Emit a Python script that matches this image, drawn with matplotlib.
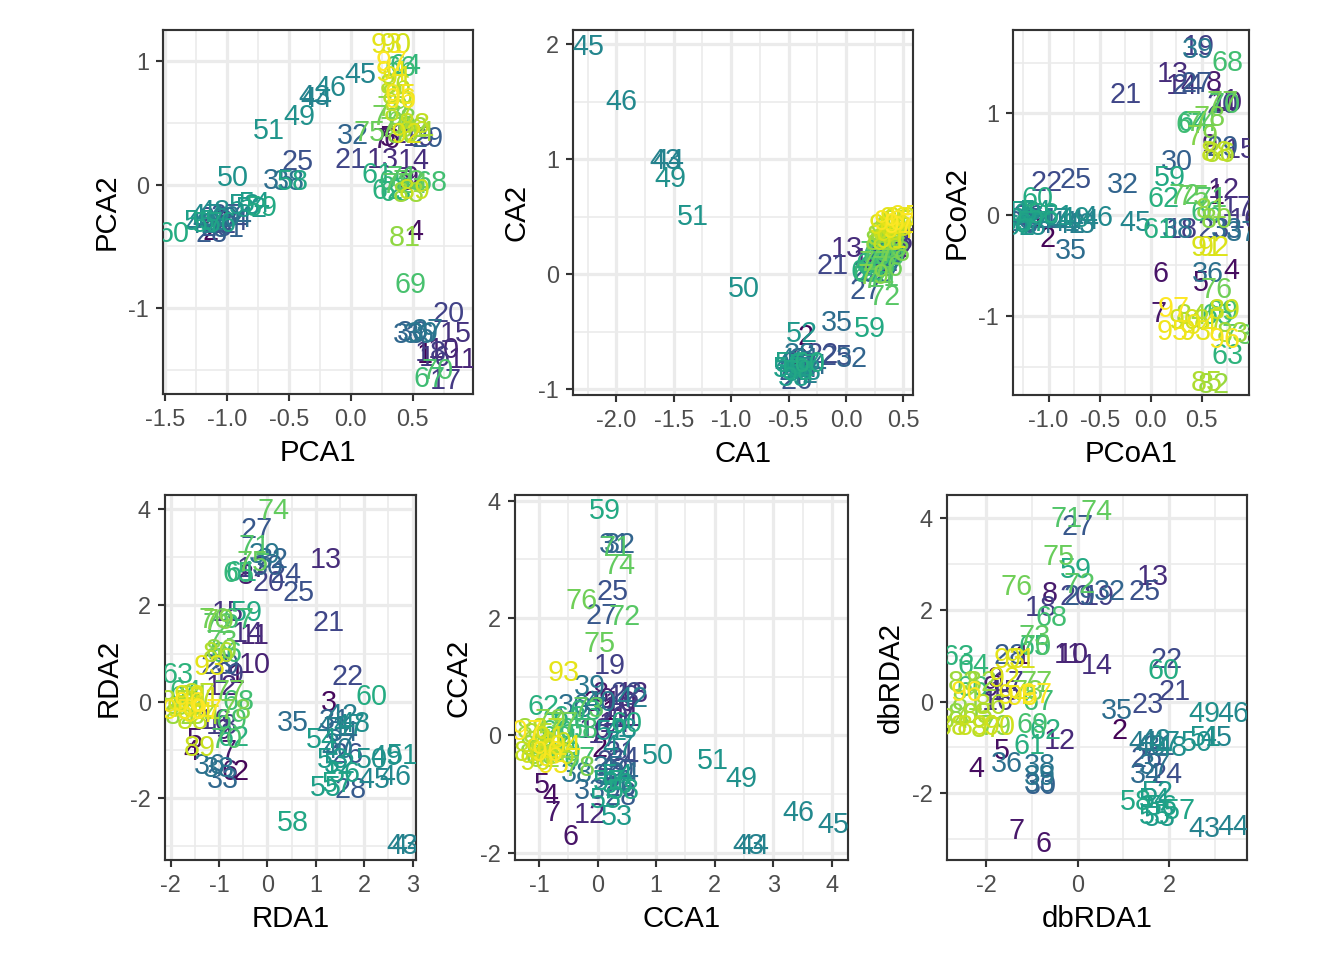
import matplotlib
matplotlib.use('Agg')
import matplotlib.pyplot as plt
from matplotlib.ticker import MultipleLocator, FormatStrFormatter

plt.rcParams['font.family'] = ['Liberation Sans', 'DejaVu Sans']
plt.rcParams['axes.unicode_minus'] = False

# sample ids 1..97, coloured by id (viridis)
labels = list(range(1, 98))

# %% PCA scores
pca_x = [0.60, -1.13, -1.05, 0.52, 0.30, 0.33, 0.24, 0.45, 0.48, 0.75,
         0.90, 0.45, 0.26, 0.51, 0.85, 0.68, 0.77, 0.65, 0.55, 0.79,
         0.00, -1.05, -1.10, -0.95, -0.43, -1.08, -1.00, -1.12, 0.62, 0.50,
         -0.98, 0.02, 0.47, -0.92, -0.58, 0.55, 0.62, -0.50, 0.58, -1.02,
         -1.15, -1.20, -0.29, -0.28, 0.08, -0.16, -1.17, -1.10, -0.41, -0.95,
         -0.66, -0.80, -0.85, -0.77, -1.22, -1.05, -1.15, -0.47, -0.72, -1.43,
         0.22, 0.30, 0.36, 0.44, 0.35, 0.40, 0.64, 0.65, 0.48, 0.70,
         0.42, 0.38, 0.47, 0.50, 0.15, 0.30, 0.36, 0.40, 0.34, 0.42,
         0.44, 0.50, 0.47, 0.55, 0.38, 0.36, 0.40, 0.52, 0.52, 0.36,
         0.38, 0.45, 0.29, 0.33, 0.40, 0.40, 0.33]
pca_y = [-1.38, -0.38, -0.30, -0.38, 0.38, 0.36, 0.36, 0.02, 0.05, -1.34,
         -1.42, 0.40, 0.20, 0.19, -1.21, -1.40, -1.59, -1.36, 0.38, -1.05,
         0.20, -0.33, -0.28, -0.30, 0.18, -0.35, -0.25, -0.40, 0.37, -1.20,
         -0.36, 0.39, -1.22, -0.28, 0.03, -1.22, -1.18, 0.02, -1.21, -0.27,
         -0.30, -0.33, 0.71, 0.69, 0.887, 0.78, -0.25, -0.22, 0.55, 0.055,
         0.43, -0.20, -0.17, -0.16, -0.30, -0.32, -0.32, 0.02, -0.19, -0.40,
         0.08, -0.05, -0.07, 0.96, 0.02, 0.94, -1.57, 0.015, -0.81, -1.51,
         0.05, 0.00, 0.02, 0.00, 0.42, 0.55, 0.45, 0.52, 0.62, 0.40,
         -0.43, 0.45, -0.08, 0.42, 0.72, 0.80, 0.58, 0.48, -0.05, 1.13,
         0.86, 0.40, 1.13, 0.90, 0.72, 0.68, 0.98]

# %% CA scores
ca_x = [0.25, -0.35, -0.40, 0.22, 0.30, 0.28, 0.25, 0.35, 0.38, 0.40,
        0.42, 0.32, 0.01, 0.20, 0.45, 0.43, 0.46, 0.36, 0.30, 0.40,
        -0.12, -0.20, -0.42, -0.38, -0.08, -0.43, 0.17, -0.45, 0.20, 0.35,
        -0.35, 0.05, 0.30, -0.30, -0.08, 0.28, 0.38, -0.40, 0.33, -0.48,
        -0.45, -0.38, -1.57, -1.55, -2.24, -1.96, -0.42, -0.35, -1.53, -0.89,
        -1.33, -0.38, -0.45, -0.40, -0.50, -0.48, -0.36, -0.42, 0.21, -0.32,
        0.18, 0.22, 0.25, 0.28, 0.20, 0.30, 0.35, 0.32, 0.38, 0.26,
        0.33, 0.34, 0.30, 0.28, 0.40, 0.36, 0.25, 0.42, 0.24, 0.38,
        0.30, 0.35, 0.40, 0.32, 0.45, 0.38, 0.42, 0.36, 0.44, 0.48,
        0.40, 0.34, 0.43, 0.46, 0.52, 0.38, 0.47]
ca_y = [0.10, -0.55, -0.75, 0.05, 0.15, 0.08, 0.12, 0.20, 0.25, 0.18,
        0.22, 0.10, 0.22, 0.12, 0.28, 0.25, 0.30, 0.15, 0.20, 0.30,
        0.07, -0.70, -0.78, -0.82, -0.72, -0.93, -0.145, -0.85, 0.02, 0.12,
        -0.75, -0.74, 0.05, -0.80, -0.42, 0.00, 0.20, -0.70, 0.08, -0.80,
        -0.75, -0.88, 0.985, 0.985, 1.97, 1.50, -0.82, -0.85, 0.83, -0.13,
        0.50, -0.52, -0.90, -0.86, -0.82, -0.78, -0.80, -0.85, -0.48, -0.78,
        0.02, 0.08, 0.05, 0.15, 0.00, 0.20, 0.10, 0.25, 0.15, 0.18,
        -0.03, -0.20, 0.12, -0.05, 0.22, 0.05, 0.10, 0.18, -0.02, 0.30,
        0.28, 0.35, 0.40, 0.32, 0.45, 0.38, 0.35, 0.28, 0.40, 0.48,
        0.30, 0.42, 0.48, 0.38, 0.50, 0.45, 0.43]

# %% PCoA scores
pcoa_x = [0.65, -1.01, -1.15, 0.79, 0.49, 0.10, 0.08, 0.62, 0.58, 0.74,
          0.72, 0.72, 0.22, 0.30, 0.88, 0.92, 0.85, 0.30, 0.47, 0.70,
          -0.25, -1.02, 0.62, 0.36, -0.74, -1.20, 0.45, -1.25, 0.70, 0.26,
          -1.05, -0.27, 0.75, -1.10, -0.78, 0.56, 0.89, 0.27, 0.46, -1.30,
          -0.85, -0.80, -0.70, -0.66, -0.15, -0.52, -0.95, -1.18, -0.75, -1.22,
          -0.90, -1.28, -1.32, -1.12, -1.25, -1.32, -1.15, -1.05, 0.19, -1.11,
          0.08, 0.13, 0.75, 0.42, 0.65, 0.55, 0.40, 0.75, 0.70, 0.72,
          0.60, 0.33, 0.85, 0.50, 0.42, 0.64, 0.70, 0.58, 0.51, 0.65,
          0.60, 0.62, 0.80, 0.40, 0.55, 0.68, 0.58, 0.65, 0.72, 0.33,
          0.55, 0.62, 0.44, 0.50, 0.21, 0.72, 0.22]
pcoa_y = [0.18, -0.245, -0.05, -0.555, -0.67, -0.59, -0.98, 1.30, 0.68, 1.10,
          1.12, 0.245, 1.39, 1.27, 0.64, -0.05, 0.07, -0.15, 1.65, 1.08,
          1.18, 0.31, -0.15, 1.27, 0.34, -0.02, 1.29, -0.08, 0.66, 0.52,
          -0.05, 0.29, -0.15, -0.10, -0.36, -0.59, -0.18, -0.15, 1.62, -0.05,
          -0.08, -0.10, -0.10, -0.06, -0.08, -0.03, -0.05, -0.12, -0.04, 0.02,
          -0.02, -0.12, 0.00, 0.03, 0.02, -0.10, -0.08, 0.00, 0.36, 0.15,
          -0.15, 0.15, -1.40, 0.90, -1.00, 0.02, 0.88, 1.50, -0.96, 1.08,
          0.15, 0.18, -1.20, 0.90, 0.17, -0.74, 1.10, 0.95, 0.77, -0.05,
          0.05, -1.68, -1.18, -1.00, -1.66, 0.60, -1.05, 0.61, -0.95, -1.05,
          -0.33, -0.33, -1.16, -1.10, -1.16, -1.24, -0.93]

# %% RDA scores
rda_x = [-0.64, -0.55, 1.26, -1.57, -1.50, -0.78, -0.80, -0.45, -0.90, -0.26,
         -0.26, -0.95, 1.20, -0.40, -0.82, -1.10, -0.30, -0.95, -0.80, 0.02,
         1.26, 1.65, -1.05, 0.37, 0.64, 1.65, -0.22, 1.71, -0.90, 0.00,
         1.40, 0.12, -0.92, 1.55, 0.53, -1.19, 1.50, -1.00, -0.05, 1.45,
         1.35, 1.55, 2.79, 2.90, 2.20, 2.65, 1.70, 1.80, 2.45, 2.15,
         2.79, 1.50, 1.35, 1.13, 1.20, 1.60, 1.45, 0.53, -0.43, 2.16,
         -0.53, -0.71, -1.85, -1.70, -0.60, -0.84, -0.60, -0.60, -0.75, -0.85,
         -0.26, -1.00, -0.95, 0.12, -0.30, -1.10, -0.78, -0.65, -1.02, -0.95,
         -1.50, -1.80, -1.65, -1.30, -1.90, -1.00, -1.40, -1.55, -1.40, -1.75,
         -1.30, -1.60, -1.19, -1.45, -1.85, -1.60, -1.25]
rda_y = [0.56, -1.45, -0.02, -1.03, -0.80, -1.45, -1.05, 2.60, -0.60, 0.77,
         1.36, 0.30, 2.95, 1.40, 1.85, -0.40, 2.75, -0.50, 0.55, 2.47,
         1.63, 0.52, 0.75, 2.63, 2.26, -1.10, 3.57, -1.83, 0.75, 2.80,
         -0.40, 2.95, -1.62, -0.65, -0.44, -1.34, -0.90, -1.40, 3.05, -1.00,
         -0.55, -0.30, -3.00, -3.00, -1.62, -1.55, -0.50, -0.45, -1.15, -1.20,
         -1.13, -1.30, -1.20, -0.79, -1.78, -1.50, -1.70, -2.51, 1.85, 0.11,
         2.67, -0.75, 0.56, 0.20, 2.65, 1.00, 1.70, 0.00, -0.40, -0.80,
         3.22, 1.60, 1.25, 3.95, 2.88, 1.70, 0.21, -0.20, 1.67, 1.05,
         0.10, -0.30, -0.10, -0.30, 0.00, 1.00, 0.15, -0.40, -0.95, -0.15,
         0.05, 0.10, 0.73, -0.25, -0.20, -0.05, -0.20]

# %% CCA scores
cca_x = [0.20, 0.04, -0.10, -0.81, -0.95, -0.47, -0.76, 0.05, 0.15, 0.40,
         0.50, -0.13, 0.60, 0.30, 0.35, -0.05, 0.10, 0.45, 0.21, 0.25,
         0.40, 0.50, 0.25, 0.45, 0.26, 0.40, 0.07, 0.40, 0.35, 0.20,
         0.30, 0.38, -0.13, 0.45, 0.20, -0.40, -0.10, -0.35, -0.13, 0.05,
         0.30, 0.60, 2.57, 2.65, 4.02, 3.42, 0.35, 0.40, 2.46, 1.03,
         1.97, 0.25, 0.33, 0.35, 0.15, 0.35, 0.20, 0.45, 0.13, 0.50,
         -0.50, -0.93, -0.20, -0.60, -0.40, -0.70, -0.30, -0.25, -0.55, -0.80,
         0.30, 0.47, -0.15, 0.38, 0.04, -0.27, -0.60, -0.30, -0.80, -0.95,
         -1.05, -0.90, -1.10, -0.75, -1.00, -0.65, -0.85, -1.15, -0.70, -1.05,
         -0.80, -0.95, -0.58, -0.55, -0.75, -0.85, -1.20]
cca_y = [0.40, -0.24, 0.55, -1.04, -0.84, -1.74, -1.32, 0.70, 0.60, 0.55,
         0.30, -1.35, 0.70, 0.20, 0.45, 0.10, 0.00, 0.65, 1.18, 0.30,
         -0.30, 0.70, -0.45, -0.40, 2.44, -0.90, 2.04, -1.05, -0.60, -0.70,
         3.24, 3.24, -0.95, -0.65, -0.55, 0.50, 0.45, -0.65, 0.82, 0.55,
         -0.80, 0.62, -1.89, -1.89, -1.52, -1.32, -0.20, 0.10, -0.75, -0.35,
         -0.44, 0.05, -1.40, -0.70, -1.10, -0.85, -0.80, -0.95, 3.83, 0.20,
         0.30, 0.48, 0.40, -0.10, 0.10, 0.05, -0.40, 0.10, -0.30, -0.10,
         3.20, 2.02, 0.45, 2.89, 1.56, 2.30, 0.20, -0.55, 0.25, -0.35,
         -0.20, -0.40, 0.10, -0.25, 0.00, -0.35, 0.10, -0.30, -0.15, -0.45,
         -0.05, -0.25, 1.07, -0.20, -0.50, -0.30, 0.05]

# %% dbRDA scores
dbrda_x = [-1.20, 0.92, -1.80, -2.22, -1.67, -0.76, -1.34, -0.61, -1.90, -0.10,
           -0.20, -0.39, 1.65, 0.41, -1.60, -1.75, -1.50, -0.80, 0.47, -0.05,
           2.12, 1.94, 1.54, 1.95, 1.47, 1.50, 0.00, -1.50, 0.05, -0.80,
           1.80, 0.70, -0.82, 1.50, 0.85, -1.56, 1.70, -0.83, -0.83, 1.60,
           1.45, 1.70, 2.78, 3.40, 3.03, 3.40, 1.90, 2.05, 2.78, 2.60,
           2.80, 1.75, 1.79, 1.70, 1.70, 1.85, 2.23, 1.28, -0.03, 1.87,
           -1.05, -0.70, -2.62, -2.29, -0.95, -2.30, -0.85, -0.58, -1.00, -0.92,
           -0.25, 0.04, -0.94, 0.41, -0.43, -1.34, -0.90, -1.10, -1.80, -2.50,
           -2.40, -2.10, -2.50, -2.70, -2.20, -1.90, -2.00, -2.75, -2.30, -1.70,
           -1.25, -1.60, -1.50, -1.40, -1.20, -2.44, -0.90]
dbrda_y = [1.00, -0.65, 0.50, -1.48, -1.08, -3.11, -2.82, 2.36, 0.30, 1.02,
           1.02, -0.86, 2.72, 0.77, 0.20, 0.00, 0.40, 2.05, 2.29, 2.29,
           0.22, 0.91, -0.07, -1.60, 2.40, -1.26, 3.81, 1.00, 2.29, -1.85,
           -1.00, 2.40, -1.80, -1.59, -0.21, -1.37, -1.40, -1.40, -1.65, -1.00,
           -0.90, -0.85, -2.78, -2.74, -0.79, -0.28, -0.90, -1.02, -0.28, -0.90,
           -0.80, -2.00, -2.53, -2.15, -2.50, -2.30, -2.38, -2.20, 2.87, 0.66,
           -0.97, -0.65, 0.98, 0.77, 1.20, 0.30, 0.00, 1.82, -0.50, 1.20,
           3.99, 2.54, 1.40, 4.14, 3.16, 2.51, 0.41, 0.20, -0.55, -0.30,
           0.00, 0.40, 0.40, -0.40, -0.30, -0.10, -0.60, -0.55, -0.55, -0.55,
           0.90, 0.50, 0.90, 0.12, 0.10, 0.19, 0.15]

# layout of the 2x3 grid (pixel boxes on a 1344x960 canvas) and axis setup
panels = [
    dict(x=pca_x, y=pca_y, xl='PCA1', yl='PCA2', box=(163, 30, 473, 394),
         xlim=(-1.514, 0.987), ylim=(-1.693, 1.25), xs=0.5, ys=1, xf='%.1f', yf='%d'),
    dict(x=ca_x, y=ca_y, xl='CA1', yl='CA2', box=(573, 30, 913, 395),
         xlim=(-2.377, 0.584), ylim=(-1.05, 2.122), xs=0.5, ys=1, xf='%.1f', yf='%d'),
    dict(x=pcoa_x, y=pcoa_y, xl='PCoA1', yl='PCoA2', box=(1013, 30, 1249, 395),
         xlim=(-1.348, 0.962), ylim=(-1.78, 1.822), xs=0.5, ys=1, xf='%.1f', yf='%d'),
    dict(x=rda_x, y=rda_y, xl='RDA1', yl='RDA2', box=(165, 495, 416, 860),
         xlim=(-2.118, 3.07), ylim=(-3.28, 4.29), xs=1, ys=2, xf='%d', yf='%d'),
    dict(x=cca_x, y=cca_y, xl='CCA1', yl='CCA2', box=(515, 495, 848, 860),
         xlim=(-1.409, 4.273), ylim=(-2.125, 4.10), xs=1, ys=2, xf='%d', yf='%d'),
    dict(x=dbrda_x, y=dbrda_y, xl='dbRDA1', yl='dbRDA2', box=(947, 495, 1247, 860),
         xlim=(-2.863, 3.708), ylim=(-3.456, 4.51), xs=2, ys=2, xf='%d', yf='%d'),
]

W, H = 1344, 960
cmap = plt.get_cmap('viridis')
cols = [cmap((n - min(labels)) / (max(labels) - min(labels))) for n in labels]

fig = plt.figure(figsize=(7, 5), dpi=192)

for p in panels:
    l, t, r, b = p['box']
    ax = fig.add_axes([l / W, 1 - b / H, (r - l) / W, (b - t) / H])
    ax.set_xlim(p['xlim'])
    ax.set_ylim(p['ylim'])
    ax.xaxis.set_major_locator(MultipleLocator(p['xs']))
    ax.xaxis.set_minor_locator(MultipleLocator(p['xs'] / 2))
    ax.yaxis.set_major_locator(MultipleLocator(p['ys']))
    ax.yaxis.set_minor_locator(MultipleLocator(p['ys'] / 2))
    ax.xaxis.set_major_formatter(FormatStrFormatter(p['xf']))
    ax.yaxis.set_major_formatter(FormatStrFormatter(p['yf']))
    ax.grid(which='minor', color='#EBEBEB', lw=0.6)
    ax.grid(which='major', color='#EBEBEB', lw=1.2)
    ax.set_axisbelow(True)
    for s in ax.spines.values():
        s.set_color('#333333')
        s.set_linewidth(0.8)
    ax.tick_params(which='major', length=2.75, width=0.8, color='#333333',
                   labelsize=8.8, labelcolor='#4D4D4D', pad=2.5)
    ax.tick_params(which='minor', length=0)
    ax.set_xlabel(p['xl'], fontsize=11, color='black', labelpad=3)
    ax.set_ylabel(p['yl'], fontsize=11, color='black', labelpad=3)

    for xi, yi, n, c in zip(p['x'], p['y'], labels, cols):
        ax.text(xi, yi, str(n), color=c, fontsize=10.8, ha='center', va='center',
                clip_on=True)

fig.savefig('out.png', dpi=192)
